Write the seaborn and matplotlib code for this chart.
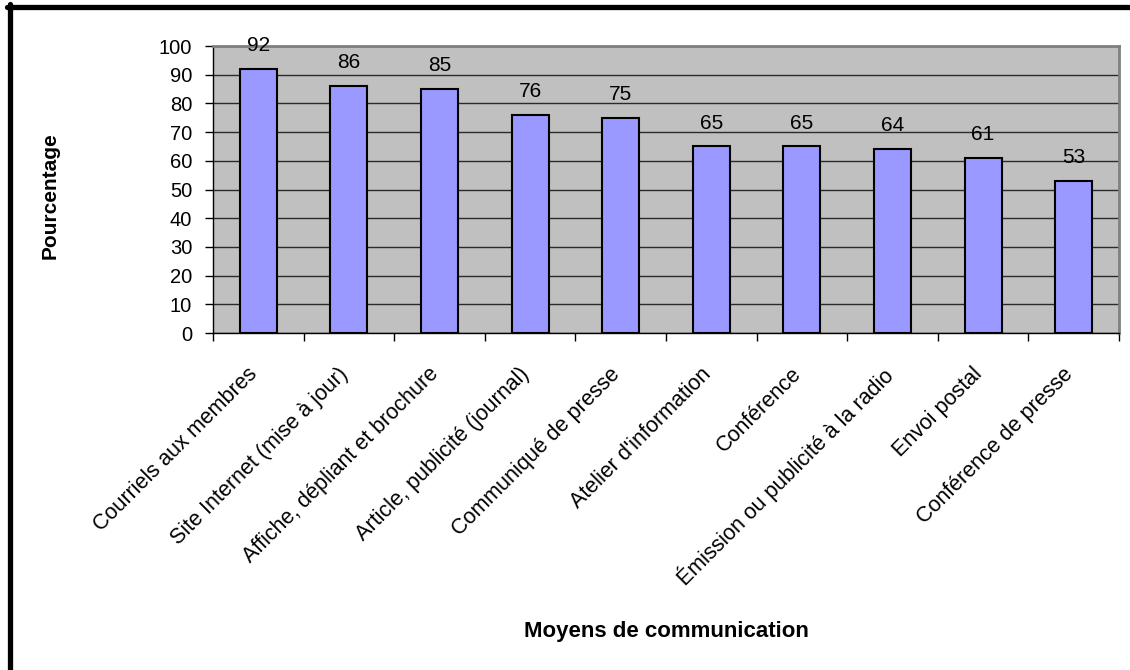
import numpy as np
import pandas as pd
import matplotlib
matplotlib.use("Agg")
import matplotlib.pyplot as plt
from matplotlib.lines import Line2D
from matplotlib.transforms import ScaledTranslation
import seaborn as sns

categories = [
    "Courriels aux membres",
    "Site Internet (mise à jour)",
    "Affiche, dépliant et brochure",
    "Article, publicité (journal)",
    "Communiqué de presse",
    "Atelier d'information",
    "Conférence",
    "Émission ou publicité à la radio",
    "Envoi postal",
    "Conférence de presse",
]
percentages = [92, 86, 85, 76, 75, 65, 65, 64, 61, 53]
y_ticks = [0, 10, 20, 30, 40, 50, 60, 70, 80, 90, 100]

sns.set_style("white")
plt.rcParams["font.family"] = ["Liberation Sans", "DejaVu Sans"]
plt.rcParams.update({
    "text.color": "black",
    "axes.labelcolor": "black",
    "xtick.color": "black",
    "ytick.color": "black",
})

df = pd.DataFrame({"moyen": categories, "pct": percentages})

fig = plt.figure(figsize=(11.3, 6.7), dpi=100)
ax = fig.add_axes([213 / 1130, 1 - 333 / 670, 906 / 1130, 287 / 670])
ax.set_facecolor("#C0C0C0")

sns.barplot(data=df, x="moyen", y="pct", order=categories, color="#9999FF",
            saturation=1, edgecolor="black", linewidth=1.5, width=0.41, ax=ax)

ax.set_ylim(0, 100)
ax.set_xlim(-0.5, len(categories) - 0.5)
ax.set_yticks(y_ticks)
ax.set_yticklabels([str(v) for v in y_ticks], fontsize=14.5)
ax.yaxis.grid(True, color="#2a2a2a", linewidth=1)
ax.xaxis.grid(False)
ax.set_axisbelow(True)

# category separators as outward minor ticks
ax.set_xticks(np.arange(-0.5, len(categories), 1), minor=True)
ax.tick_params(axis="x", which="minor", length=6, width=1, color="black",
               direction="out", bottom=True)
ax.tick_params(axis="x", which="major", length=0, pad=22, labelsize=15.5)
ax.tick_params(axis="y", which="major", length=6, width=1, color="black",
               direction="out", left=True, pad=9)

shift = ScaledTranslation(-11 / 100, 0, fig.dpi_scale_trans)
for lab in ax.get_xticklabels():
    lab.set_rotation(45)
    lab.set_rotation_mode("anchor")
    lab.set_ha("right")
    lab.set_va("top")
    lab.set_transform(lab.get_transform() + shift)

for side in ("left", "bottom"):
    ax.spines[side].set_color("black")
    ax.spines[side].set_linewidth(1)
for side in ("top", "right"):
    ax.spines[side].set_color("#808080")
    ax.spines[side].set_linewidth(2)

for container in ax.containers:
    ax.bar_label(container, labels=[str(v) for v in percentages],
                 padding=10, fontsize=15, color="black")

ax.set_xlabel("Moyens de communication", fontsize=16, fontweight="bold",
              va="center")
ax.xaxis.set_label_coords(0.5, -1.04)
ax.set_ylabel("Pourcentage", fontsize=15, fontweight="bold", va="center")
ax.yaxis.set_label_coords((50 - 213) / 906, 0.477)

# heavy frame along the top and left edges
fig.add_artist(Line2D([7 / 1130, 1.0], [1 - 6.5 / 670] * 2, color="black",
                      linewidth=3.8, transform=fig.transFigure))
fig.add_artist(Line2D([9.5 / 1130] * 2, [0.0, 1 - 4 / 670], color="black",
                      linewidth=3.8, transform=fig.transFigure))

fig.savefig("out.png", dpi=100, facecolor="white")
